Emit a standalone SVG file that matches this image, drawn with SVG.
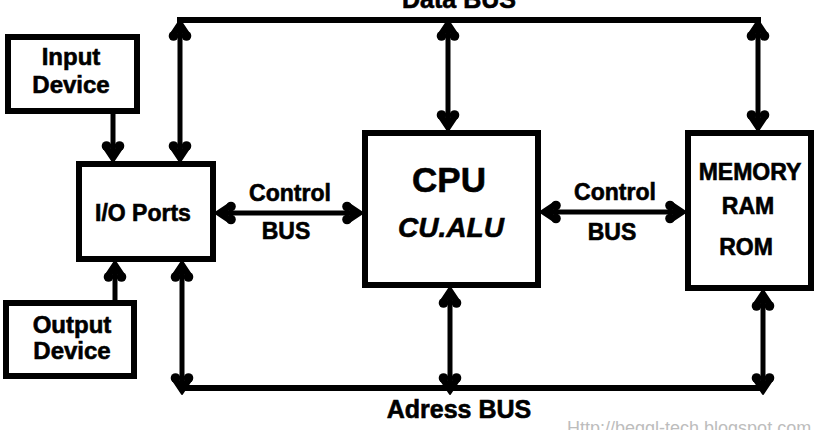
<svg xmlns="http://www.w3.org/2000/svg" width="819" height="430" viewBox="0 0 819 430">
<style>
  .box { fill: #ffffff; stroke: #000000; stroke-width: 6; }
  .bus { fill: none; stroke: #000000; stroke-width: 6; }
  .wire { fill: none; stroke: #000000; stroke-width: 5; }
  text { font-family: "Liberation Sans", Arial, sans-serif; font-weight: bold; fill: #000000; stroke: #000000; stroke-width: 0.6; text-anchor: middle; }
  .t24 { font-size: 24px; }
  .t23 { font-size: 23px; }
  .t35 { font-size: 35px; }
  .ti { font-size: 28px; font-style: italic; }
  .t25 { font-size: 25px; }
  .wm { font-size: 18px; font-weight: normal; fill: #bdbdbd; stroke: none; text-anchor: start; }
</style>
<defs>
  <marker id="ah" markerUnits="userSpaceOnUse" viewBox="-21 -12 24 24" markerWidth="24" markerHeight="24" refX="-4" refY="0" orient="auto-start-reverse">
    <path d="M1,0 L-14,-10 L-11,0 L-14,10 Z" fill="#000" stroke="#000" stroke-width="2" stroke-linejoin="round"/>
    <circle cx="-15" cy="-6.5" r="4.8" fill="#000"/>
    <circle cx="-15" cy="6.5" r="4.8" fill="#000"/>
  </marker>
</defs>
<rect width="819" height="430" fill="#ffffff"/>

<g id="connectors">
  <line class="bus" x1="177" y1="20" x2="761" y2="20"/>
  <line class="bus" x1="179" y1="388" x2="766" y2="388"/>
  <line class="wire" x1="180" y1="25" x2="180" y2="157" marker-start="url(#ah)" marker-end="url(#ah)"/>
  <line class="wire" x1="448" y1="25" x2="448" y2="126" marker-start="url(#ah)" marker-end="url(#ah)"/>
  <line class="wire" x1="758" y1="25" x2="758" y2="126" marker-start="url(#ah)" marker-end="url(#ah)"/>
  <line class="wire" x1="182" y1="266" x2="182" y2="389" marker-start="url(#ah)" marker-end="url(#ah)"/>
  <line class="wire" x1="450" y1="292" x2="450" y2="389" marker-start="url(#ah)" marker-end="url(#ah)"/>
  <line class="wire" x1="763" y1="295" x2="763" y2="389" marker-start="url(#ah)" marker-end="url(#ah)"/>
  <line class="wire" x1="113" y1="113" x2="113" y2="157" marker-end="url(#ah)"/>
  <line class="wire" x1="115" y1="300" x2="115" y2="266" marker-end="url(#ah)"/>
  <line class="wire" x1="220" y1="213" x2="358" y2="213" marker-start="url(#ah)" marker-end="url(#ah)"/>
  <line class="wire" x1="545" y1="212" x2="681" y2="212" marker-start="url(#ah)" marker-end="url(#ah)"/>
  <text class="t25" x="459" y="8">Data BUS</text>
  <text class="t25" x="459" y="418">Adress BUS</text>
  <text class="t23" x="290" y="201">Control</text>
  <text class="t23" x="286" y="239">BUS</text>
  <text class="t23" x="615" y="200">Control</text>
  <text class="t23" x="612" y="240">BUS</text>
</g>

<g id="input-device">
  <rect class="box" x="8" y="37" width="129" height="74"/>
  <text class="t24" x="71" y="65">Input</text>
  <text class="t24" x="71" y="93">Device</text>
</g>

<g id="io-ports">
  <rect class="box" x="79" y="164" width="134" height="95"/>
  <text class="t23" x="143" y="221">I/O Ports</text>
</g>

<g id="output-device">
  <rect class="box" x="6" y="303" width="128" height="73"/>
  <text class="t24" x="72" y="333">Output</text>
  <text class="t24" x="72" y="359">Device</text>
</g>

<g id="cpu">
  <rect class="box" x="365" y="133" width="173" height="152"/>
  <text class="t35" x="449" y="192">CPU</text>
  <text class="ti" x="451" y="237">CU.ALU</text>
</g>

<g id="memory">
  <rect class="box" x="688" y="133" width="123" height="155"/>
  <text class="t23" x="750" y="180">MEMORY</text>
  <text class="t23" x="748" y="214">RAM</text>
  <text class="t23" x="746" y="255">ROM</text>
</g>

<text class="wm" x="567" y="434">Http://beggl-tech.blogspot.com</text>
</svg>
